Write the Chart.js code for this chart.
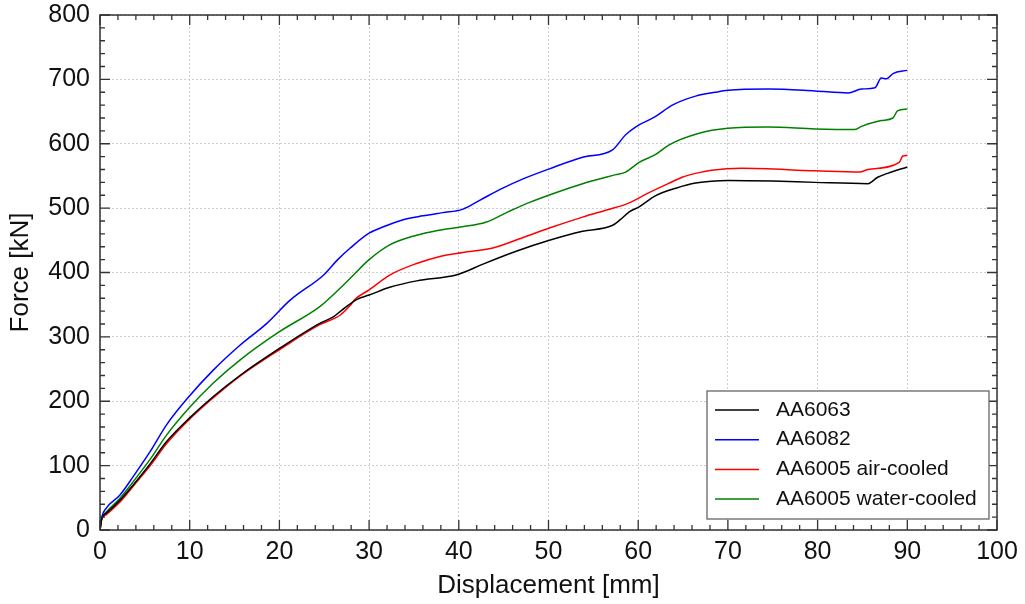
<!DOCTYPE html>
<html lang="en">
<head>
  <meta charset="UTF-8">
  <title>Force - Displacement</title>
  <style>
    html, body { margin: 0; padding: 0; background: #fff; }
    #wrap { width: 1025px; height: 604px; }
  </style>
</head>
<body>
  <div id="wrap"><canvas id="chart" width="1025" height="604"></canvas></div>

  <script src="https://cdn.jsdelivr.net/npm/chart.js"></script>
  <script>
    // AA6063
    const x6063 = [0, 0.2, 0.7, 2.2, 3.7, 5.6, 7.4, 9.9, 12.6, 15.6, 20, 24.5, 26, 27, 28.6, 30, 32.3, 35.3, 39.7, 40.5, 42.7, 46.4, 50.1, 53.8, 57.1, 58, 59, 60.1, 61.9, 64.2, 66.4, 70.1, 75, 79.7, 85.6, 86.7, 87.8, 90];
    const y6063 = [0, 18, 26, 46, 70, 103, 137, 173, 207, 240, 282, 321, 331, 342, 358, 365, 377, 387, 396, 400, 413, 433, 450, 464, 473, 482, 494, 502, 519, 531, 539, 543, 542, 540, 538, 548, 554, 564];
    // AA6082
    const x6082 = [0, 0.2, 0.7, 2.2, 3.7, 5.6, 7.4, 9.9, 12.6, 15.6, 18.6, 21.2, 25, 26.5, 27.9, 30, 31.6, 33.8, 36, 38.2, 40.4, 42.7, 44.9, 47.1, 50.1, 53.8, 57.1, 58.6, 59.7, 61.9, 63.8, 66.4, 68.6, 70, 74.5, 79.7, 83.4, 84.9, 86.4, 87.1, 87.7, 88.4, 90];
    const y6082 = [0, 20, 34, 54, 83, 122, 163, 207, 248, 287, 321, 357, 397, 420, 438, 461, 471, 482, 488, 493, 498, 515, 531, 545, 561, 579, 590, 614, 626, 642, 660, 674, 680, 683, 685, 682, 679, 685, 687, 702, 701, 709, 714];
    // AA6005 air-cooled
    const x6005a = [0, 0.2, 0.7, 2.2, 3.7, 5.6, 7.4, 9.9, 12.6, 15.6, 20, 24.5, 26, 26.8, 27.9, 28.4, 30, 32.3, 35.3, 37.9, 40.4, 43.8, 46.7, 50.1, 53.8, 56.7, 58.8, 61.2, 63.8, 64.9, 66.4, 68.2, 71.5, 79.7, 84.7, 85.6, 89.1, 89.5, 90];
    const y6005a = [0, 17, 24, 43, 68, 100, 134, 171, 205, 239, 280, 319, 328, 334, 349, 358, 373, 396, 414, 425, 431, 438, 452, 469, 486, 498, 507, 524, 541, 548, 554, 559, 562, 558, 556, 560, 571, 581, 582];
    // AA6005 water-cooled
    const x6005w = [0, 0.2, 0.7, 2.2, 3.7, 5.6, 7.4, 9.9, 12.6, 15.6, 20, 24.5, 26.5, 27.9, 30, 32.3, 35.3, 37.5, 40.4, 43, 45.6, 47.9, 50.8, 53.8, 57.5, 58.6, 60.1, 61.9, 63.4, 66.7, 70, 74.5, 79.7, 84.1, 84.9, 87.1, 88.4, 88.9, 90];
    const y6005w = [0, 18, 28, 49, 75, 110, 147, 189, 228, 264, 308, 347, 372, 391, 420, 443, 458, 465, 471, 478, 495, 509, 524, 538, 552, 556, 571, 583, 598, 616, 624, 626, 623, 622, 627, 636, 640, 651, 654];

    const seriesNames = ["AA6063", "AA6082", "AA6005 air-cooled", "AA6005 water-cooled"];
    const seriesColors = ["#000000", "#0000ff", "#ff0000", "#008000"];
    const xTicks = [0, 10, 20, 30, 40, 50, 60, 70, 80, 90, 100];
    const yTicks = [0, 100, 200, 300, 400, 500, 600, 700, 800];

    const FONT = "'Liberation Sans', Arial, sans-serif";

    function pts(xs, ys) {
      return xs.map((x, i) => ({ x: x, y: ys[i] }));
    }

    // inward ticks on all 4 sides, frame and legend box
    const framePlugin = {
      id: "frame",
      afterDraw(chart) {
        const ctx = chart.ctx;
        const a = chart.chartArea;
        const xs = chart.scales.x, ys = chart.scales.y;
        ctx.save();
        ctx.strokeStyle = "#333";
        ctx.lineWidth = 1.3;
        function ticksFor(scale, majors, horizontal) {
          for (let i = 0; i < majors.length; i++) {
            const v = majors[i];
            const p = scale.getPixelForValue(v);
            drawTick(p, 10, horizontal);
            if (i < majors.length - 1) {
              const step = (majors[i + 1] - v) / 5;
              for (let k = 1; k < 5; k++) drawTick(scale.getPixelForValue(v + k * step), 5, horizontal);
            }
          }
        }
        function drawTick(p, len, horizontal) {
          ctx.beginPath();
          if (horizontal) {
            ctx.moveTo(p, a.bottom); ctx.lineTo(p, a.bottom - len);
            ctx.moveTo(p, a.top); ctx.lineTo(p, a.top + len);
          } else {
            ctx.moveTo(a.left, p); ctx.lineTo(a.left + len, p);
            ctx.moveTo(a.right, p); ctx.lineTo(a.right - len, p);
          }
          ctx.stroke();
        }
        ticksFor(xs, xTicks, true);
        ticksFor(ys, yTicks, false);
        ctx.lineWidth = 1.5;
        ctx.strokeRect(a.left, a.top, a.right - a.left, a.bottom - a.top);

        // legend
        const bw = 282, bh = 128;
        const bx = a.right - 8 - bw, by = a.bottom - 11 - bh;
        ctx.fillStyle = "#fff";
        ctx.fillRect(bx, by, bw, bh);
        ctx.strokeStyle = "#666";
        ctx.lineWidth = 1.3;
        ctx.strokeRect(bx, by, bw, bh);
        ctx.font = "21px " + FONT;
        ctx.textBaseline = "middle";
        ctx.textAlign = "left";
        chart.data.datasets.forEach((ds, i) => {
          const cy = by + 19 + i * 29.7;
          ctx.strokeStyle = ds.borderColor;
          ctx.lineWidth = 1.5;
          ctx.beginPath();
          ctx.moveTo(bx + 8, cy); ctx.lineTo(bx + 52, cy);
          ctx.stroke();
          ctx.fillStyle = "#111";
          ctx.fillText(ds.label, bx + 69, cy);
        });
        ctx.restore();
      }
    };

    const xsList = [x6063, x6082, x6005a, x6005w];
    const ysList = [y6063, y6082, y6005a, y6005w];

    new Chart(document.getElementById("chart").getContext("2d"), {
      type: "scatter",
      data: {
        datasets: seriesNames.map((name, i) => ({
          label: name,
          data: pts(xsList[i], ysList[i]),
          showLine: true,
          borderColor: seriesColors[i],
          backgroundColor: seriesColors[i],
          borderWidth: 1.5,
          pointRadius: 0,
          cubicInterpolationMode: "monotone"
        }))
      },
      options: {
        responsive: false,
        animation: false,
        layout: { padding: { left: 0, top: 15, right: 28, bottom: 0 } },
        plugins: {
          legend: { display: false },
          tooltip: { enabled: false }
        },
        scales: {
          x: {
            type: "linear",
            min: 0, max: 100,
            afterFit(s) { s.height = 74; s.paddingLeft = 0; s.paddingRight = 0; },
            afterBuildTicks(s) { s.ticks = xTicks.map(v => ({ value: v })); },
            ticks: { color: "#111", padding: 7, font: { family: FONT, size: 25 } },
            grid: { color: "#cfcfcf", lineWidth: 1, drawTicks: false },
            border: { display: false, dash: [2, 2] },
            title: {
              display: true, text: "Displacement [mm]", color: "#111",
              font: { family: FONT, size: 26 }, padding: { top: 0, bottom: 3 }
            }
          },
          y: {
            type: "linear",
            min: 0, max: 800,
            afterFit(s) { s.width = 100; s.paddingTop = 0; s.paddingBottom = 0; },
            afterBuildTicks(s) { s.ticks = yTicks.map(v => ({ value: v })); },
            ticks: { color: "#111", padding: 10, font: { family: FONT, size: 25 } },
            grid: { color: "#cfcfcf", lineWidth: 1, drawTicks: false },
            border: { display: false, dash: [2, 2] },
            title: {
              display: true, text: "Force [kN]", color: "#111",
              font: { family: FONT, size: 26 }, padding: { top: 5, bottom: 0 }
            }
          }
        }
      },
      plugins: [framePlugin]
    });
  </script>
</body>
</html>
